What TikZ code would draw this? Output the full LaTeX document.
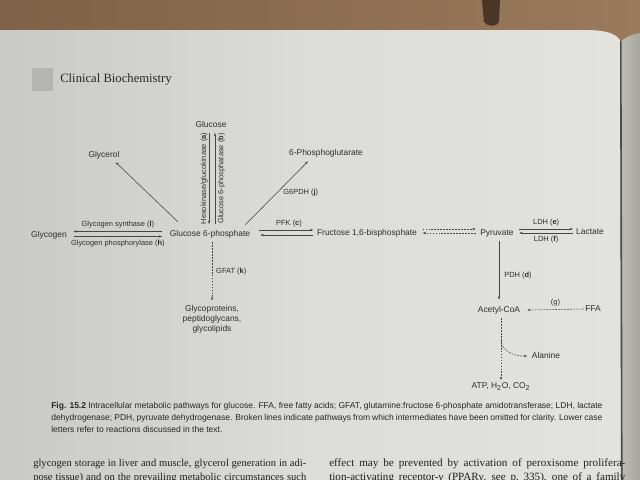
\documentclass[tikz,border=0pt]{standalone}
\usepackage{fontspec}
\setmainfont{Liberation Serif}
\newfontfamily\diag{Liberation Sans}
\usetikzlibrary{arrows.meta,calc}
\definecolor{txt}{HTML}{2E2E2E}
\definecolor{ln}{HTML}{454545}
\definecolor{pageL}{HTML}{C9C9C7}
\definecolor{pageM}{HTML}{DCDCDA}
\definecolor{pageR}{HTML}{E2E2DF}
\definecolor{brownA}{HTML}{7E6148}
\definecolor{brownB}{HTML}{9A7A5C}
\definecolor{brownD}{HTML}{4A3626}
\definecolor{gut}{HTML}{4E4B47}
\definecolor{nextpA}{HTML}{BDBCB4}
\definecolor{nextpB}{HTML}{A8A79F}
\definecolor{hdrsq}{HTML}{B4B4B3}
\begin{document}
\begin{tikzpicture}[x=0.025cm,y=-0.025cm,
  lab/.style={font=\diag\fontsize{6}{7}\selectfont, text=txt, inner sep=1pt, text height=4.6pt, text depth=1.4pt},
  multilab/.style={font=\diag\fontsize{6}{7.1}\selectfont, text=txt, inner sep=1pt, align=center},
  enz/.style={font=\diag\fontsize{5.3}{6}\selectfont, text=txt, inner sep=0.8pt},
  arr/.style={draw=ln, line width=0.4pt, -{Stealth[length=2.4pt,width=1.7pt]}},
  dsh/.style={arr, dash pattern=on 1.2pt off 0.9pt},
  captxt/.style={font=\diag\fontsize{6.05}{8.5}\selectfont, text=black!85, inner sep=0},
  bodytxt/.style={font=\fontsize{7.5}{10.5}\selectfont, text=black!88, inner sep=0},
  bodytxtR/.style={font=\fontsize{7.9}{10.5}\selectfont, text=black!88, inner sep=0}
]
\useasboundingbox (0,0) rectangle (640,480);
\clip (0,0) rectangle (640,480);
% background (photo of book page)
\shade[left color=brownA, right color=brownB] (0,0) rectangle (640,60);
\fill[brownD] (482,0) -- (500,0) -- (499,22) .. controls (497,27) and (487,27) .. (484,22) -- cycle;
\shade[left color=nextpA, right color=nextpB]
  (620,42) .. controls (626,37) and (632,34) .. (640,33) -- (640,480) -- (620,480) -- cycle;
\shade[left color=pageL, right color=pageR, middle color=pageM]
  (0,30) -- (585,30) .. controls (605,30) and (615,33) .. (620,40) -- (621,480) -- (0,480) -- cycle;
\fill[gut] (620,41) -- (621.6,41) -- (622.6,480) -- (621,480) -- cycle;
% header
\fill[hdrsq] (32,68) rectangle (53,91);
\node[anchor=west, font=\fontsize{9}{10}\selectfont, text=black!85, inner sep=0] (hdr) at (60,79) {Clinical Biochemistry};
% nodes
\node[lab] (glucose) at (211,125) {Glucose};
\node[lab] (glycerol) at (104,155) {Glycerol};
\node[lab] (pglut) at (326,153) {6-Phosphoglutarate};
\node[lab] (g6p) at (210,234) {Glucose 6-phosphate};
\node[lab] (glycogen) at (49,235) {Glycogen};
\node[lab] (fbp) at (367,233) {Fructose 1,6-bisphosphate};
\node[lab] (pyr) at (497,233) {Pyruvate};
\node[lab] (lac) at (590,232) {Lactate};
\node[lab] (acoa) at (499,310) {Acetyl-CoA};
\node[lab] (ffa) at (593,309) {FFA};
\node[lab] (alanine) at (546,356) {Alanine};
\node[lab] (atp) at (501,386) {ATP, H\textsubscript{2}O, CO\textsubscript{2}};
\node[multilab, anchor=north] (glyco) at (212,303.5) {Glycoproteins,\\peptidoglycans,\\glycolipids};
% connectors
\draw[arr] ($(glucose.south)+(-2,2)$) -- ($(g6p.north)+(-1,-4)$)
  node[enz, midway, rotate=90, anchor=south] {Hexokinase/glucokinase (\textbf{a})};
\draw[arr] ($(g6p.north)+(5,-4)$) -- ($(glucose.south)+(4,2)$)
  node[enz, midway, rotate=90, anchor=north, inner sep=2pt] {Glucose 6-phosphatase (\textbf{b})};
\draw[arr] ($(g6p.north west)+(9.5,-6.4)$) -- ($(glycerol.south east)+(-5.4,1.4)$);
\draw[arr] ($(g6p.north east)+(-6.4,-3.4)$) -- ($(pglut.south)+(-18,2.4)$)
  node[enz, midway, right=3.8pt] {G6PDH (\textbf{j})};
\draw[arr] ($(g6p.west)+(-6,-2.5)$) -- ($(glycogen.east)+(5,-3.5)$)
  node[enz, midway, above=1.2pt] {Glycogen synthase (\textbf{l})};
\draw[arr] ($(glycogen.east)+(5,1.5)$) -- ($(g6p.west)+(-6,2.5)$)
  node[enz, midway, below=1.5pt] {Glycogen phosphorylase (\textbf{h})};
\draw[arr] ($(g6p.east)+(7.5,-4)$) -- ($(fbp.west)+(-2,-3)$)
  node[enz, pos=0.55, above=1.2pt] {PFK (\textbf{c})};
\draw[arr] ($(fbp.west)+(-2,2)$) -- ($(g6p.east)+(8.5,1)$);
\draw[dsh] ($(fbp.east)+(4,-4)$) -- ($(pyr.west)+(-3,-4)$);
\draw[dsh] ($(pyr.west)+(-3,0)$) -- ($(fbp.east)+(4,0)$);
\draw[arr] ($(pyr.east)+(4,-4)$) -- ($(lac.west)+(-1.5,-3)$)
  node[enz, midway, above=1.2pt] {LDH (\textbf{e})};
\draw[arr] ($(lac.west)+(-1.5,1)$) -- ($(pyr.east)+(4,0)$)
  node[enz, midway, below=1.5pt] {LDH (\textbf{f})};
\draw[arr] ($(pyr.south)+(2,2.4)$) -- ($(acoa.north)+(0,-4.4)$)
  node[enz, pos=0.58, right=2.8pt] {PDH (\textbf{d})};
\draw[dsh] (ffa.west) -- ($(acoa.east)+(5.5,0)$)
  node[enz, midway, above=1.5pt] {(g)};
\coordinate (a1) at ($(acoa.south)+(2,2.4)$);
\draw[dsh] (a1) -- (atp.north);
\coordinate (br) at ($(a1)!0.36!(atp.north)$);
\draw[dsh] (br) .. controls ($(br)+(1,10)$) and ($(br)+(12,16)$) .. ($(alanine.west)+(-3,0)$);
\draw[dsh] ($(g6p.south)+(2,2.4)$) -- ($(glyco.north)+(0,-3)$)
  node[enz, midway, right=2pt] {GFAT (\textbf{k})};
% caption
\node[captxt, anchor=base west] (c1) at (51,408) {\makebox[13.775cm][s]{\textbf{Fig. 15.2} Intracellular metabolic pathways for glucose. FFA, free fatty acids; GFAT, glutamine:fructose 6-phosphate amidotransferase; LDH, lactate}};
\node[captxt, anchor=base west] (c2) at (51,420) {\makebox[13.775cm][s]{dehydrogenase; PDH, pyruvate dehydrogenase. Broken lines indicate pathways from which intermediates have been omitted for clarity. Lower case}};
\node[captxt, anchor=base west] (c3) at (51,432) {letters refer to reactions discussed in the text.};
% body text
\node[bodytxt, anchor=base west] (b1) at (33,466.5) {\makebox[6.825cm][s]{glycogen storage in liver and muscle, glycerol generation in adi-}};
\node[bodytxt, anchor=base west] (b2) at (33,480) {\makebox[6.825cm][s]{pose tissue) and on the prevailing metabolic circumstances such}};
\node[bodytxtR, anchor=base west] (b3) at (329,466.5) {\makebox[7.4cm][s]{effect may be prevented by activation of peroxisome prolifera-}};
\node[bodytxtR, anchor=base west] (b4) at (329,480) {\makebox[7.4cm][s]{tion-activating receptor-γ (PPARγ, see p.~335), one of a family}};
\end{tikzpicture}
\end{document}
